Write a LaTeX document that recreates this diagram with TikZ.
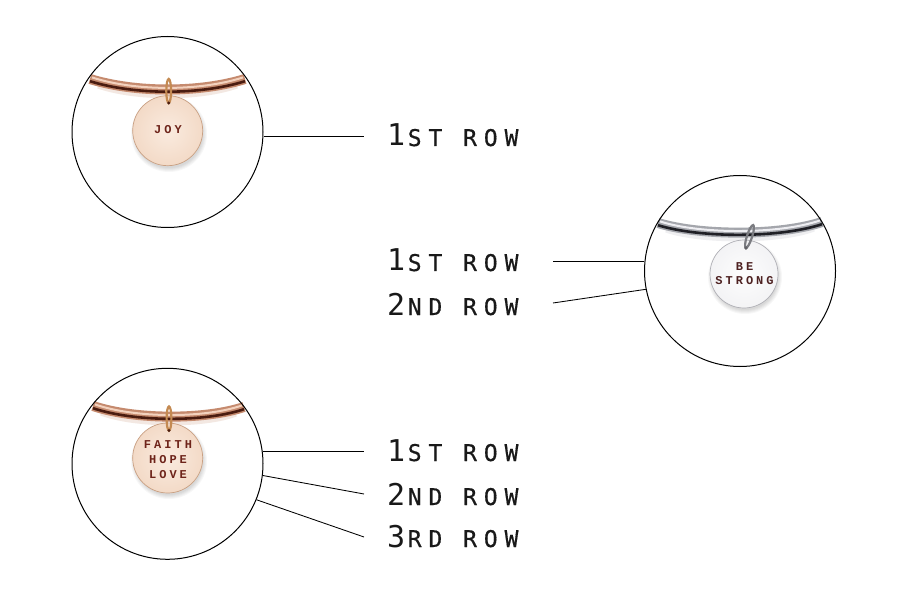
\documentclass[tikz,border=0pt]{standalone}
\usepackage{fontspec}
\setmainfont{Liberation Sans}
\newfontfamily\labfont[LetterSpace=30,FakeBold=0.5]{DejaVu Sans Mono}
\newfontfamily\digfont{DejaVu Sans Mono}
\newfontfamily\stampfont[LetterSpace=25]{Liberation Mono}
\usetikzlibrary{calc}
\definecolor{copperbase}{HTML}{C58A6E}
\definecolor{copperdark}{HTML}{4A1C10}
\definecolor{copperlight}{HTML}{F3D2BE}
\definecolor{coppershadow}{HTML}{F3E8E2}
\definecolor{coppermetal}{HTML}{C48A52}
\definecolor{steelbase}{HTML}{A4A6AC}
\definecolor{steeldark}{HTML}{1F1F25}
\definecolor{steellight}{HTML}{EEEEF2}
\definecolor{steelshadow}{HTML}{EFEFF1}
\definecolor{goldcentre}{HTML}{FAEBDF}
\definecolor{goldedge}{HTML}{F3DAC7}
\definecolor{goldrim}{HTML}{C9A083}
\definecolor{silvercentre}{HTML}{FDFDFD}
\definecolor{silveredge}{HTML}{F3F3F5}
\definecolor{silverrim}{HTML}{B0B0B6}
\definecolor{stampcol}{HTML}{6E241A}
\definecolor{stampsilver}{HTML}{4E2222}
\tikzset{
  lens/.style={circle,draw=black,line width=1pt,minimum size=191pt,inner sep=0pt},
  leader/.style={draw=black,line width=0.85pt},
  rowlabel/.style={anchor=base west,inner sep=0pt,text=black!90},
  stamp/.style={inner sep=0pt,font=\stampfont\bfseries\fontsize{12}{12}\selectfont},
  charm/.style={circle,inner sep=0pt,line width=0.7pt},
  goldcharm/.style={charm,minimum size=70pt,draw=goldrim,inner color=goldcentre,outer color=goldedge},
  silvercharm/.style={charm,minimum size=68pt,draw=silverrim,inner color=silvercentre,outer color=silveredge},
}
\newcommand{\tube}[8]{%
  \draw[#4,line width=5pt] ($(#5)+(8,7)$) .. controls ($(#6)+(0,6)$) and ($(#7)+(0,6)$) .. ($(#8)+(-8,7)$);
  \draw[#1,line width=10pt] (#5) .. controls (#6) and (#7) .. (#8);
  \draw[#2,line width=2.6pt] ($(#5)+(0,2.2)$) .. controls ($(#6)+(0,2.2)$) and ($(#7)+(0,2.2)$) .. ($(#8)+(0,2.2)$);
  \draw[#3,line width=2pt] ($(#5)+(2,-1.6)$) .. controls ($(#6)+(0,-1.6)$) and ($(#7)+(0,-1.6)$) .. ($(#8)+(-2,-1.6)$);
}
\newcommand{\softshadow}[2]{%
  \foreach \dr in {1,2,3,4,5}{\fill[black,opacity=.03] ($(#1)+(1,3)$) circle ({#2+\dr-2});}
}
\newcommand{\rowtext}[2]{{\digfont\fontsize{30}{30}\selectfont #1}\kern2.5pt{\labfont\fontsize{23}{23}\selectfont #2}}
\begin{document}
\begin{tikzpicture}[x=1pt,y=-1pt]
\useasboundingbox (0,0) rectangle (901,601);
\fill[white] (0,0) rectangle (901,601);

% ---- first bangle
\tube{copperbase}{copperdark}{copperlight}{coppershadow}{90,79}{135,93}{200,93}{245,79}
\softshadow{168,131}{35}
\node[goldcharm] (p1) at (167.7,130.7) {};
\draw[coppermetal,line width=2.2pt] (168.7,91) ellipse (2.4 and 12);
\fill[copperdark] (168.7,103) circle (1.6);
\node[stamp,text=stampcol] (t1) at (168,130) {JOY};
\node[lens] (c1) at (167.5,132) {};

% ---- second bangle
\tube{steelbase}{steeldark}{steellight}{steelshadow}{658,223}{700,236}{780,236}{822,222}
\softshadow{744,274}{34}
\node[silvercharm] (p2) at (744,274) {};
\draw[steelbase!75!black,line width=2.2pt,rotate around={-18:(749.5,236.5)}] (749.5,236.5) ellipse (2.6 and 12);
\fill[steeldark!70] (746,248) circle (1.8);
\node[stamp,text=stampsilver] (t2a) at (744.5,267) {BE};
\node[stamp,text=stampsilver] (t2b) at (744.5,281) {STRONG};
\node[lens] (c2) at (740,271) {};

% ---- third bangle
\tube{copperbase}{copperdark}{copperlight}{coppershadow}{93,406}{135,420}{205,420}{244,407}
\softshadow{168,458}{35}
\node[goldcharm] (p3) at (167.7,458) {};
\draw[coppermetal,line width=2.2pt] (169,418.5) ellipse (2.4 and 12);
\fill[copperdark] (169,430.5) circle (1.6);
\node[stamp,text=stampcol] (t3a) at (168,445) {FAITH};
\node[stamp,text=stampcol] (t3b) at (168,460) {HOPE};
\node[stamp,text=stampcol] (t3c) at (168,475) {LOVE};
\node[lens] (c3) at (167.5,463.8) {};

% ---- row labels
\node[rowlabel] (l1) at (387,146) {\rowtext{1}{ST ROW}};
\node[rowlabel] (l2) at (387,271) {\rowtext{1}{ST ROW}};
\node[rowlabel] (l3) at (387,315) {\rowtext{2}{ND ROW}};
\node[rowlabel] (l4) at (387,461) {\rowtext{1}{ST ROW}};
\node[rowlabel] (l5) at (387,505) {\rowtext{2}{ND ROW}};
\node[rowlabel] (l6) at (387,547) {\rowtext{3}{RD ROW}};

% ---- leader ends
\coordinate (e1) at (364,136.5);
\coordinate (e2) at (553,261.5);
\coordinate (e3) at (553,303);
\coordinate (e4) at (364,451.5);
\coordinate (e5) at (364,494);
\coordinate (e6) at (364,537);

\draw[leader] (e1 -| c1.east) -- (e1);
\draw[leader] (e2 -| c2.west) -- (e2);
\draw[leader] (c2.191.5) -- (e3);
\draw[leader] (e4 -| c3.east) ++(-0.8,0) -- (e4);
\draw[leader] (c3.-7.3) -- (e5);
\draw[leader] (c3.-22.1) -- (e6);
\end{tikzpicture}
\end{document}
